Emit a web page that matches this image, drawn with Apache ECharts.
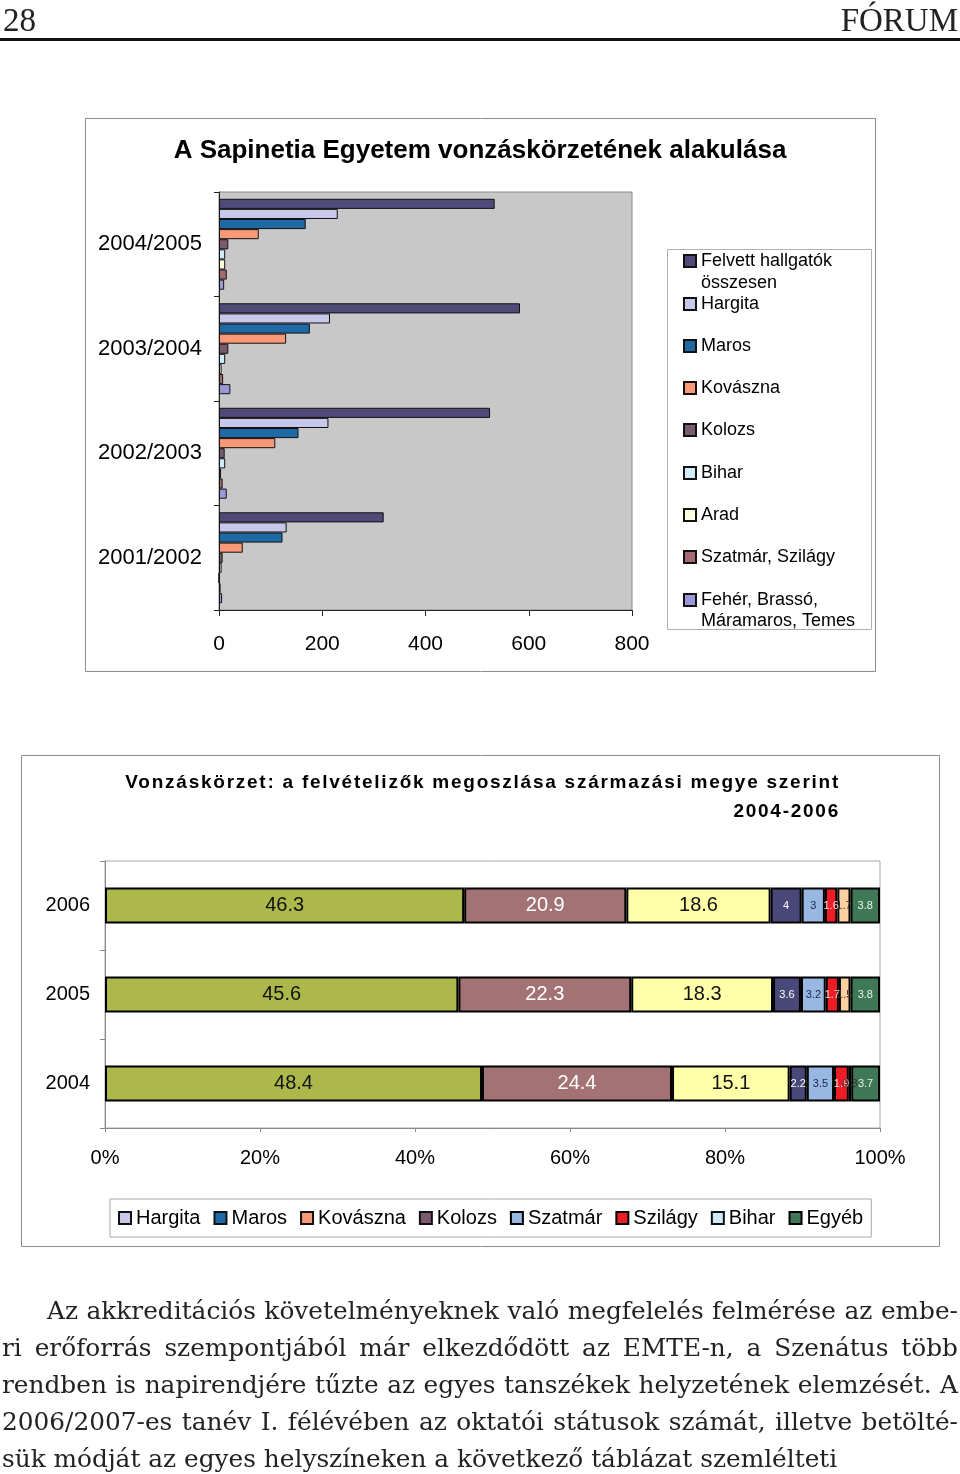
<!DOCTYPE html>
<html>
<head>
<meta charset="utf-8">
<script src="https://cdn.jsdelivr.net/npm/echarts@6/dist/echarts.min.js"></script>
<style>
html,body{margin:0;padding:0;background:#fff;}
#wrap{position:relative;width:960px;height:1474px;overflow:hidden;}
#chart{position:absolute;left:0;top:0;width:960px;height:1474px;}
.hdr{position:absolute;top:0;font-family:'Liberation Serif','Times New Roman',serif;font-size:33px;line-height:40px;color:#222;}
#rule{position:absolute;left:0;top:38px;width:960px;height:3px;background:#111;}
#btitle{position:absolute;right:120px;top:767px;text-align:right;font-family:'Liberation Sans',Arial,sans-serif;font-weight:bold;font-size:19px;line-height:29px;letter-spacing:1.75px;color:#000;white-space:nowrap;}
#para{position:absolute;left:2px;top:1292px;width:956px;font-family:'DejaVu Serif',serif;font-size:24.8px;line-height:37px;color:#222;}
#para .j{text-align:justify;text-align-last:justify;}
</style>
</head>
<body>
<div id="wrap">
  <div id="chart"></div>
  <div class="hdr" style="left:3px;">28</div>
  <div class="hdr" style="right:2px;">FÓRUM</div>
  <div id="rule"></div>
  <div id="btitle">Vonzáskörzet: a felvételizők megoszlása származási megye szerint<br>2004-2006</div>
  <div id="para">
    <div class="j" style="padding-left:45px;">Az akkreditációs követelményeknek való megfelelés felmérése az embe-</div>
    <div class="j">ri erőforrás szempontjából már elkezdődött az EMTE-n, a Szenátus több</div>
    <div class="j">rendben is napirendjére tűzte az egyes tanszékek helyzetének elemzését. A</div>
    <div class="j">2006/2007-es tanév I. félévében az oktatói státusok számát, illetve betölté-</div>
    <div>sük módját az egyes helyszíneken a következő táblázat szemlélteti</div>
  </div>
</div>
<script>
// ---------- Top chart data ----------
const topYears = ['2001/2002', '2002/2003', '2003/2004', '2004/2005'];
const topNames = ['Felvett hallgatók összesen', 'Hargita', 'Maros', 'Kovászna', 'Kolozs', 'Bihar', 'Arad', 'Szatmár, Szilágy', 'Fehér, Brassó, Máramaros, Temes'];
const felvettTop = [319, 525, 583, 534];
const hargitaTop = [131, 212, 215, 230];
const marosTop = [123, 154, 176, 168];
const kovasznaTop = [46, 109, 130, 77];
const kolozsTop = [7, 11, 18, 18];
const biharTop = [5, 12, 12, 12];
const aradTop = [0, 4, 5, 12];
const szatmarTop = [3, 7, 8, 15];
const feherTop = [6, 15, 22, 10];
const topColors = ['#504a78', '#c8c8ec', '#1f6aa5', '#f89a78', '#7a5a6e', '#d0ecfa', '#fffde0', '#a46c70', '#9c98d8'];

// ---------- Bottom chart data ----------
const bottomYears = ['2004', '2005', '2006'];
const bottomNames = ['Hargita', 'Maros', 'Kovászna', 'Kolozs', 'Szatmár', 'Szilágy', 'Bihar', 'Egyéb'];
const hargitaPct = [48.4, 45.6, 46.3];
const marosPct = [24.4, 22.3, 20.9];
const kovasznaPct = [15.1, 18.3, 18.6];
const kolozsPct = [2.2, 3.6, 4];
const szatmarPct = [3.5, 3.2, 3];
const szilagyPct = [1.9, 1.7, 1.6];
const biharPct = [0.3, 1.5, 1.7];
const egyebPct = [3.7, 3.8, 3.8];
const bottomColors = ['#acb94a', '#a37274', '#ffffaa', '#4a4878', '#98b8e2', '#ee1c24', '#fcd0a0', '#3e7856'];
const bottomLabelColors = ['#111', '#fff', '#111', '#fff', '#1a2550', '#ffe0e0', '#333', '#e8f4e8'];

const topData = [felvettTop, hargitaTop, marosTop, kovasznaTop, kolozsTop, biharTop, aradTop, szatmarTop, feherTop];
const bottomData = [hargitaPct, marosPct, kovasznaPct, kolozsPct, szatmarPct, szilagyPct, biharPct, egyebPct];
const totals = bottomYears.map((_, i) => bottomData.reduce((s, arr) => s + arr[i], 0));

const FONT = "'Liberation Sans', Arial, sans-serif";
const chart = echarts.init(document.getElementById('chart'), null, {renderer: 'canvas'});

// top legend: one legend per item (Excel-like spacing)
const legendCenters = [263, 306, 348, 390, 432, 475, 517, 559, 602];
const legendFirstLine = {
  'Felvett hallgatók összesen': 'Felvett hallgatók',
  'Fehér, Brassó, Máramaros, Temes': 'Fehér, Brassó,'
};
const topLegends = topNames.map((name, i) => ({
  data: [name],
  left: 683,
  top: legendCenters[i] - 11,
  padding: 0,
  itemWidth: 12,
  itemHeight: 12,
  icon: 'rect',
  selectedMode: false,
  formatter: n => legendFirstLine[n] || n,
  textStyle: {fontFamily: FONT, fontSize: 18, color: '#000'}
}));

const series = [];
topNames.forEach((name, i) => {
  series.push({
    name: name,
    type: 'bar',
    xAxisIndex: 0,
    yAxisIndex: 0,
    data: topData[i],
    barGap: '0%',
    barCategoryGap: '13%',
    itemStyle: {color: topColors[i], borderColor: '#111', borderWidth: 1},
    emphasis: {disabled: true}
  });
});
bottomNames.forEach((name, i) => {
  const raw = bottomData[i];
  series.push({
    name: name,
    type: 'bar',
    xAxisIndex: 1,
    yAxisIndex: 1,
    stack: 'pct',
    barWidth: 36,
    data: raw.map((v, k) => v / totals[k] * 100),
    itemStyle: {color: bottomColors[i], borderColor: '#000', borderWidth: 2},
    label: {
      show: true,
      position: 'inside',
      fontFamily: FONT,
      fontSize: i < 3 ? 20 : 11,
      color: bottomLabelColors[i],
      formatter: p => String(raw[p.dataIndex])
    },
    emphasis: {disabled: true}
  });
});

chart.setOption({
  animation: false,
  textStyle: {fontFamily: FONT},
  grid: [
    {left: 219, top: 192, width: 413, height: 418, show: true, backgroundColor: '#c8c8c8', borderColor: '#8a8a8a', borderWidth: 1, outerBoundsMode: 'none', containLabel: false},
    {left: 105, top: 861, width: 775, height: 267, show: true, backgroundColor: 'rgba(0,0,0,0)', borderColor: '#a8a8a8', borderWidth: 1, outerBoundsMode: 'none', containLabel: false}
  ],
  xAxis: [
    {gridIndex: 0, type: 'value', min: 0, max: 800, interval: 200,
     axisLine: {show: true, lineStyle: {color: '#222', width: 1}},
     axisTick: {show: true, length: 6, lineStyle: {color: '#222'}},
     splitLine: {show: false},
     axisLabel: {fontFamily: FONT, fontSize: 21, color: '#000', margin: 24}},
    {gridIndex: 1, type: 'value', min: 0, max: 100, interval: 20,
     axisLine: {show: true, lineStyle: {color: '#888', width: 1}},
     axisTick: {show: true, length: 4, lineStyle: {color: '#888'}},
     splitLine: {show: false},
     axisLabel: {fontFamily: FONT, fontSize: 20, color: '#000', margin: 20, formatter: '{value}%'}}
  ],
  yAxis: [
    {gridIndex: 0, type: 'category', data: topYears,
     axisLine: {show: true, lineStyle: {color: '#222', width: 1}},
     axisTick: {show: true, length: 5, lineStyle: {color: '#222'}},
     axisLabel: {fontFamily: FONT, fontSize: 22, color: '#000', margin: 17}},
    {gridIndex: 1, type: 'category', data: bottomYears,
     axisLine: {show: true, lineStyle: {color: '#888', width: 1}},
     axisTick: {show: true, length: 5, lineStyle: {color: '#888'}},
     axisLabel: {fontFamily: FONT, fontSize: 20, color: '#000', margin: 15}}
  ],
  legend: topLegends.concat([{
    data: bottomNames,
    orient: 'horizontal',
    left: 110,
    top: 1199,
    padding: [9, 8, 9, 8],
    borderColor: '#a8a8a8',
    borderWidth: 1,
    itemGap: 13,
    itemWidth: 12,
    itemHeight: 12,
    icon: 'rect',
    selectedMode: false,
    textStyle: {fontFamily: FONT, fontSize: 20, color: '#000'}
  }]),
  graphic: [
    {type: 'rect', shape: {x: 85.5, y: 118.5, width: 790, height: 553}, style: {fill: 'none', stroke: '#8c8c8c', lineWidth: 1}, silent: true},
    {type: 'rect', shape: {x: 667.5, y: 249.5, width: 204, height: 380}, style: {fill: 'none', stroke: '#b0b0b0', lineWidth: 1}, silent: true},
    {type: 'rect', shape: {x: 21.5, y: 755.5, width: 918, height: 491}, style: {fill: 'none', stroke: '#8c8c8c', lineWidth: 1}, silent: true},
    {type: 'text', x: 480, y: 151, style: {text: 'A Sapinetia Egyetem vonzáskörzetének alakulása', font: "bold 26px 'Liberation Sans', Arial, sans-serif", fill: '#000', align: 'center', verticalAlign: 'middle'}, silent: true},
    {type: 'text', x: 701, y: 283, style: {text: 'összesen', font: "18px 'Liberation Sans', Arial, sans-serif", fill: '#000', align: 'left', verticalAlign: 'middle'}, silent: true},
    {type: 'text', x: 701, y: 621, style: {text: 'Máramaros, Temes', font: "18px 'Liberation Sans', Arial, sans-serif", fill: '#000', align: 'left', verticalAlign: 'middle'}, silent: true}
  ],
  series: series
});
</script>
</body>
</html>
